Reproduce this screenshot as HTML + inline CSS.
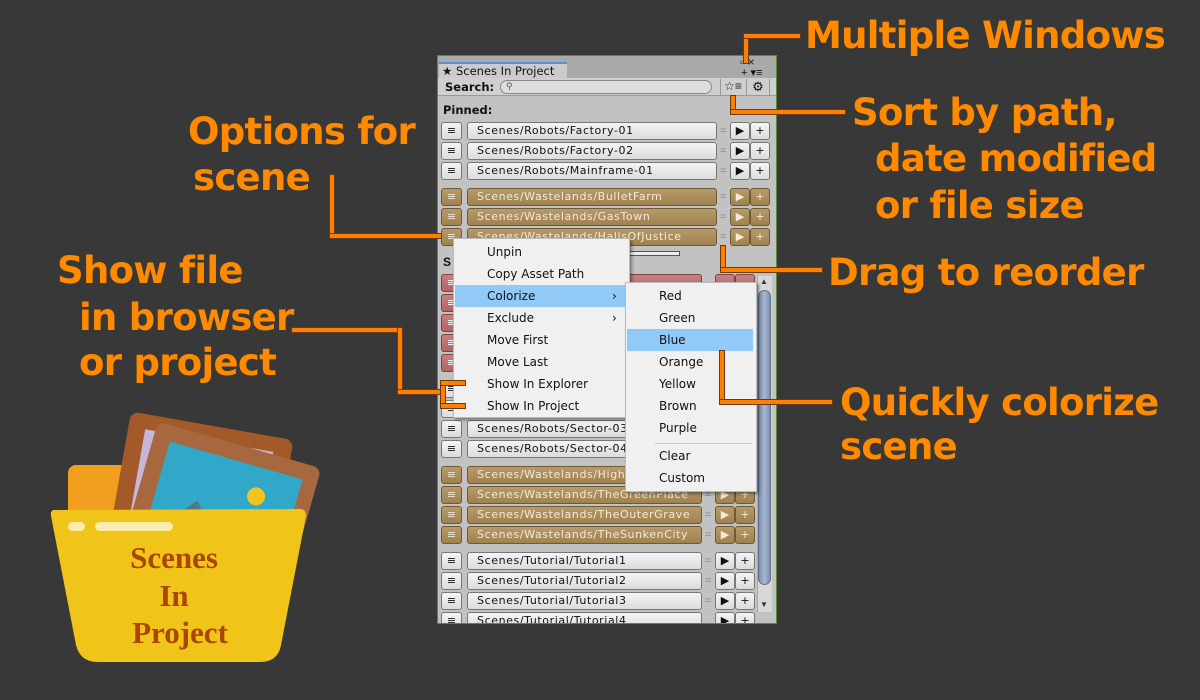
<!DOCTYPE html>
<html><head><meta charset="utf-8"><style>
*{margin:0;padding:0;box-sizing:border-box}
body{width:1200px;height:700px;background:#383838;position:relative;overflow:hidden;font-family:"Liberation Sans","DejaVu Sans",sans-serif}
.a{position:absolute}
.lbl{position:absolute;color:#ff8a00;font-weight:bold;font-size:37px;line-height:1;white-space:nowrap;font-family:"DejaVu Sans","Liberation Sans",sans-serif;letter-spacing:-0.7px}
.ln{position:absolute;background:#ff8000;box-shadow:0 0 0 1px #6b3a10}
.b{position:absolute;height:18px;border:1px solid #777;border-radius:3px;background:linear-gradient(#f4f4f4,#dcdcdc);font-family:"DejaVu Sans",sans-serif;font-size:11px;letter-spacing:0.6px;line-height:16px;color:#111;white-space:nowrap;overflow:hidden}
.br{background:linear-gradient(#b79a6a,#a0824f);color:#f3ead8;border-color:#6e5a38}
.rd{background:linear-gradient(#c98080,#b06464);color:#fff;border-color:#7a4444}
.m{text-align:center;font-family:"DejaVu Sans",sans-serif;font-size:11px;letter-spacing:0}
.eq{position:absolute;font-size:11px;color:#888;line-height:18px}
.mi{position:absolute;font-size:12px;color:#111;line-height:22px;font-family:"DejaVu Sans","Liberation Sans",sans-serif}
</style></head><body>

<!-- panel -->
<div class="a" style="left:437px;top:55px;width:340px;height:569px;background:#c2c2c2;border:1px solid #5a8a3a"></div>
<div class="a" style="left:438px;top:56px;width:338px;height:22px;background:#a9a9a9"></div>
<div class="a" style="left:439px;top:62px;width:128px;height:17px;background:#cbcbcb;border-top:2px solid #5a8fd8;font-size:11.5px;line-height:14px;padding-left:3px;color:#111;font-family:'DejaVu Sans',sans-serif">★ Scenes In Project</div>
<div class="a" style="left:740px;top:55px;font-size:12px;color:#222">▫ ×</div>
<div class="a" style="left:741px;top:66px;font-size:11px;color:#111">+ ▾≡</div>
<div class="a" style="left:438px;top:78px;width:338px;height:18px;background:#cfcfcf;border-bottom:1px solid #999"></div>
<div class="a" style="left:445px;top:80px;font-size:11.5px;font-weight:bold;color:#111;font-family:'DejaVu Sans',sans-serif">Search:</div>
<div class="a" style="left:500px;top:80px;width:212px;height:14px;border:1px solid #888;border-radius:7px;background:#dedede;font-size:9px;line-height:11px;padding-left:5px;color:#555">⚲</div>
<div class="a" style="left:720px;top:79px;width:25px;height:16px;border-left:1px solid #999;font-size:12px;text-align:center;color:#222">☆≡</div>
<div class="a" style="left:746px;top:79px;width:24px;height:16px;border-left:1px solid #999;border-right:1px solid #999;font-size:13px;text-align:center;color:#111">⚙</div>
<div class="a" style="left:443px;top:103px;font-size:11.5px;font-weight:bold;color:#111;font-family:'DejaVu Sans',sans-serif">Pinned:</div>
<div class="a" style="left:443px;top:255px;font-size:12px;font-weight:bold;color:#111">S</div>
<div class="a" style="left:620px;top:251px;width:60px;height:5px;border:1px solid #555;background:#eee"></div>

<!-- pinned rows -->
<div class="b m" style="left:441px;top:122px;width:21px">≡</div><div class="b" style="left:467px;top:122px;width:250px;padding-left:9px">Scenes/Robots/Factory-01</div><div class="eq" style="left:720px;top:122px">=</div><div class="b m" style="left:730px;top:122px;width:20px">▶</div><div class="b m" style="left:750px;top:122px;width:20px">+</div>
<div class="b m" style="left:441px;top:142px;width:21px">≡</div><div class="b" style="left:467px;top:142px;width:250px;padding-left:9px">Scenes/Robots/Factory-02</div><div class="eq" style="left:720px;top:142px">=</div><div class="b m" style="left:730px;top:142px;width:20px">▶</div><div class="b m" style="left:750px;top:142px;width:20px">+</div>
<div class="b m" style="left:441px;top:162px;width:21px">≡</div><div class="b" style="left:467px;top:162px;width:250px;padding-left:9px">Scenes/Robots/Mainframe-01</div><div class="eq" style="left:720px;top:162px">=</div><div class="b m" style="left:730px;top:162px;width:20px">▶</div><div class="b m" style="left:750px;top:162px;width:20px">+</div>
<div class="b m br" style="left:441px;top:188px;width:21px">≡</div><div class="b br" style="left:467px;top:188px;width:250px;padding-left:9px">Scenes/Wastelands/BulletFarm</div><div class="eq" style="left:720px;top:188px">=</div><div class="b m br" style="left:730px;top:188px;width:20px">▶</div><div class="b m br" style="left:750px;top:188px;width:20px">+</div>
<div class="b m br" style="left:441px;top:208px;width:21px">≡</div><div class="b br" style="left:467px;top:208px;width:250px;padding-left:9px">Scenes/Wastelands/GasTown</div><div class="eq" style="left:720px;top:208px">=</div><div class="b m br" style="left:730px;top:208px;width:20px">▶</div><div class="b m br" style="left:750px;top:208px;width:20px">+</div>
<div class="b m br" style="left:441px;top:228px;width:21px">≡</div><div class="b br" style="left:467px;top:228px;width:250px;padding-left:9px">Scenes/Wastelands/HallsOfJustice</div><div class="eq" style="left:720px;top:228px">=</div><div class="b m br" style="left:730px;top:228px;width:20px">▶</div><div class="b m br" style="left:750px;top:228px;width:20px">+</div>

<!-- scroll list rows -->
<div class="b m rd" style="left:441px;top:274px;width:21px">≡</div><div class="b rd" style="left:467px;top:274px;width:235px"></div><div class="b m rd" style="left:715px;top:274px;width:20px"></div><div class="b m rd" style="left:735px;top:274px;width:20px"></div>
<div class="b m rd" style="left:441px;top:294px;width:21px">≡</div>
<div class="b m rd" style="left:441px;top:314px;width:21px">≡</div>
<div class="b m rd" style="left:441px;top:334px;width:21px">≡</div>
<div class="b m rd" style="left:441px;top:354px;width:21px">≡</div>
<div class="b m" style="left:441px;top:380px;width:21px">≡</div>
<div class="b m" style="left:441px;top:400px;width:21px">≡</div>
<div class="b m" style="left:441px;top:420px;width:21px">≡</div><div class="b" style="left:467px;top:420px;width:235px;padding-left:9px">Scenes/Robots/Sector-03</div>
<div class="b m" style="left:441px;top:440px;width:21px">≡</div><div class="b" style="left:467px;top:440px;width:235px;padding-left:9px">Scenes/Robots/Sector-04</div>
<div class="b m br" style="left:441px;top:466px;width:21px">≡</div><div class="b br" style="left:467px;top:466px;width:235px;padding-left:9px">Scenes/Wastelands/Highway</div>
<div class="b m br" style="left:441px;top:486px;width:21px">≡</div><div class="b br" style="left:467px;top:486px;width:235px;padding-left:9px">Scenes/Wastelands/TheGreenPlace</div><div class="eq" style="left:705px;top:486px">=</div><div class="b m br" style="left:715px;top:486px;width:20px">▶</div><div class="b m br" style="left:735px;top:486px;width:20px">+</div>
<div class="b m br" style="left:441px;top:506px;width:21px">≡</div><div class="b br" style="left:467px;top:506px;width:235px;padding-left:9px">Scenes/Wastelands/TheOuterGrave</div><div class="eq" style="left:705px;top:506px">=</div><div class="b m br" style="left:715px;top:506px;width:20px">▶</div><div class="b m br" style="left:735px;top:506px;width:20px">+</div>
<div class="b m br" style="left:441px;top:526px;width:21px">≡</div><div class="b br" style="left:467px;top:526px;width:235px;padding-left:9px">Scenes/Wastelands/TheSunkenCity</div><div class="eq" style="left:705px;top:526px">=</div><div class="b m br" style="left:715px;top:526px;width:20px">▶</div><div class="b m br" style="left:735px;top:526px;width:20px">+</div>
<div class="b m" style="left:441px;top:552px;width:21px">≡</div><div class="b" style="left:467px;top:552px;width:235px;padding-left:9px">Scenes/Tutorial/Tutorial1</div><div class="eq" style="left:705px;top:552px">=</div><div class="b m" style="left:715px;top:552px;width:20px">▶</div><div class="b m" style="left:735px;top:552px;width:20px">+</div>
<div class="b m" style="left:441px;top:572px;width:21px">≡</div><div class="b" style="left:467px;top:572px;width:235px;padding-left:9px">Scenes/Tutorial/Tutorial2</div><div class="eq" style="left:705px;top:572px">=</div><div class="b m" style="left:715px;top:572px;width:20px">▶</div><div class="b m" style="left:735px;top:572px;width:20px">+</div>
<div class="b m" style="left:441px;top:592px;width:21px">≡</div><div class="b" style="left:467px;top:592px;width:235px;padding-left:9px">Scenes/Tutorial/Tutorial3</div><div class="eq" style="left:705px;top:592px">=</div><div class="b m" style="left:715px;top:592px;width:20px">▶</div><div class="b m" style="left:735px;top:592px;width:20px">+</div>
<div class="a" style="left:438px;top:612px;width:338px;height:11px;overflow:hidden"><div class="b m" style="left:3px;top:0;width:21px">≡</div><div class="b" style="left:29px;top:0;width:235px;padding-left:9px">Scenes/Tutorial/Tutorial4</div><div class="b m" style="left:277px;top:0;width:20px">▶</div><div class="b m" style="left:297px;top:0;width:20px">+</div></div>

<!-- scrollbar -->
<div class="a" style="left:757px;top:276px;width:15px;height:336px;background:#d8d8d8;border-left:1px solid #aaa"></div>
<div class="a" style="left:758px;top:290px;width:13px;height:295px;border-radius:7px;background:linear-gradient(90deg,#7c8fae,#a6b6cf,#7c8fae);border:1px solid #5d6f8c"></div>
<div class="a" style="left:760px;top:277px;font-size:8px;color:#333">▲</div>
<div class="a" style="left:760px;top:600px;font-size:8px;color:#333">▼</div>

<!-- context menu -->
<div class="a" style="left:453px;top:238px;width:177px;height:180px;background:#f0f0f0;border:1px solid #bbb;box-shadow:2px 2px 3px rgba(0,0,0,.4)"></div>
<div class="a" style="left:455px;top:285px;width:171px;height:22px;background:#91c9f7"></div>
<div class="mi" style="left:487px;top:241px">Unpin</div>
<div class="mi" style="left:487px;top:263px">Copy Asset Path</div>
<div class="mi" style="left:487px;top:285px">Colorize</div><div class="mi" style="left:612px;top:285px">›</div>
<div class="mi" style="left:487px;top:307px">Exclude</div><div class="mi" style="left:612px;top:307px">›</div>
<div class="mi" style="left:487px;top:329px">Move First</div>
<div class="mi" style="left:487px;top:351px">Move Last</div>
<div class="mi" style="left:487px;top:373px">Show In Explorer</div>
<div class="mi" style="left:487px;top:395px">Show In Project</div>

<div class="a" style="left:625px;top:282px;width:132px;height:210px;background:#f0f0f0;border:1px solid #bbb;box-shadow:2px 2px 3px rgba(0,0,0,.4)"></div>
<div class="a" style="left:627px;top:329px;width:126px;height:22px;background:#91c9f7"></div>
<div class="mi" style="left:659px;top:285px">Red</div>
<div class="mi" style="left:659px;top:307px">Green</div>
<div class="mi" style="left:659px;top:329px">Blue</div>
<div class="mi" style="left:659px;top:351px">Orange</div>
<div class="mi" style="left:659px;top:373px">Yellow</div>
<div class="mi" style="left:659px;top:395px">Brown</div>
<div class="mi" style="left:659px;top:417px">Purple</div>
<div class="a" style="left:655px;top:443px;width:97px;height:1px;background:#ccc"></div>
<div class="mi" style="left:659px;top:445px">Clear</div>
<div class="mi" style="left:659px;top:467px">Custom</div>

<!-- connector lines -->
<div class="ln" style="left:744px;top:35px;width:4px;height:28px"></div>
<div class="ln" style="left:744px;top:34px;width:56px;height:4px"></div>
<div class="ln" style="left:731px;top:96px;width:4px;height:18px"></div>
<div class="ln" style="left:731px;top:110px;width:114px;height:4px"></div>
<div class="ln" style="left:721px;top:246px;width:4px;height:26px"></div>
<div class="ln" style="left:721px;top:268px;width:101px;height:4px"></div>
<div class="ln" style="left:720px;top:351px;width:4px;height:53px"></div>
<div class="ln" style="left:720px;top:400px;width:112px;height:4px"></div>
<div class="ln" style="left:330px;top:175px;width:4px;height:63px"></div>
<div class="ln" style="left:330px;top:234px;width:111px;height:4px"></div>
<div class="ln" style="left:292px;top:328px;width:110px;height:4px"></div>
<div class="ln" style="left:398px;top:328px;width:4px;height:66px"></div>
<div class="ln" style="left:398px;top:390px;width:45px;height:4px"></div>
<div class="ln" style="left:441px;top:381px;width:4px;height:27px"></div>
<div class="ln" style="left:441px;top:381px;width:24px;height:4px"></div>
<div class="ln" style="left:441px;top:404px;width:24px;height:4px"></div>

<!-- labels -->
<div class="lbl" style="left:805px;top:17px">Multiple Windows</div>
<div class="lbl" style="left:852px;top:94px">Sort by path,</div>
<div class="lbl" style="left:875px;top:140px">date modified</div>
<div class="lbl" style="left:875px;top:187px">or file size</div>
<div class="lbl" style="left:828px;top:254px">Drag to reorder</div>
<div class="lbl" style="left:840px;top:384px">Quickly colorize</div>
<div class="lbl" style="left:840px;top:428px">scene</div>
<div class="lbl" style="left:188px;top:113px">Options for</div>
<div class="lbl" style="left:193px;top:159px">scene</div>
<div class="lbl" style="left:57px;top:252px">Show file</div>
<div class="lbl" style="left:79px;top:299px">in browser</div>
<div class="lbl" style="left:79px;top:344px">or project</div>

<!-- folder icon -->
<svg class="a" style="left:40px;top:400px" width="280" height="280" viewBox="0 0 280 280">
<rect x="28" y="65" width="60" height="70" rx="8" fill="#f29e1f"/>
<g transform="rotate(10 160 110)"><rect x="75" y="25" width="165" height="150" rx="8" fill="#a35a29"/><rect x="92" y="40" width="130" height="110" fill="#c6b6d8"/></g>
<g transform="rotate(16 170 130)"><rect x="90" y="40" width="170" height="160" rx="8" fill="#a8683f"/><rect x="107" y="56" width="138" height="120" fill="#31a8c9"/><circle cx="205" cy="85" r="9" fill="#f0c419"/><path d="M112 150 L150 105 L185 150 Z M165 150 L200 118 L240 150Z" fill="#55787f"/></g>
<path d="M16 110 Q10 109 11 116 L36 245 Q40 262 58 262 L220 262 Q238 262 241 245 L266 116 Q266 109 260 109 Z" fill="#f0c419"/>
<rect x="28" y="122" width="17" height="9" rx="4.5" fill="#fcecae"/>
<rect x="55" y="122" width="78" height="9" rx="4.5" fill="#fcecae"/>
<g font-family="Liberation Serif,serif" font-weight="bold" font-size="31" fill="#a94700" text-anchor="middle">
<text x="134" y="168">Scenes</text><text x="134" y="206">In</text><text x="140" y="243">Project</text></g>
</svg>
</body></html>
